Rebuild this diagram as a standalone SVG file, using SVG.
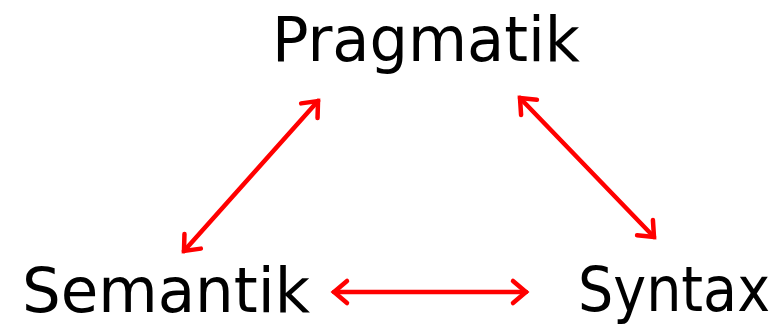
<svg xmlns="http://www.w3.org/2000/svg" width="783" height="328" viewBox="0 0 783 328">
  <style>
    .label { font-family: "DejaVu Sans Condensed", "DejaVu Sans", sans-serif; font-size: 62px; fill: #000; }
    .link { stroke: #ff0000; stroke-width: 4.5; fill: none; stroke-linecap: round; marker-start: url(#head); marker-end: url(#head); }
  </style>
  <defs>
    <!-- open chevron arrowhead, used at both ends of every link -->
    <marker id="head" viewBox="-20 -16 24 32" markerWidth="24" markerHeight="32" refX="0" refY="0" orient="auto-start-reverse" markerUnits="userSpaceOnUse">
      <path d="M-13,-11 L0,0 L-13,11" fill="none" stroke="#ff0000" stroke-width="4.5" stroke-linecap="round" stroke-linejoin="miter"/>
    </marker>
  </defs>
  <rect width="783" height="328" fill="#fff"/>
  <g id="connectors">
    <line class="link" x1="184" y1="251" x2="318" y2="101"/>
    <line class="link" x1="520" y1="98" x2="654" y2="237"/>
    <line class="link" x1="334" y1="292" x2="526" y2="292"/>
  </g>
  <g id="pragmatik">
    <text class="label" x="272" y="61" textLength="308" lengthAdjust="spacingAndGlyphs">Pragmatik</text>
  </g>
  <g id="semantik">
    <text class="label" x="22" y="312" textLength="288" lengthAdjust="spacingAndGlyphs">Semantik</text>
  </g>
  <g id="syntax">
    <text class="label" x="578" y="311" textLength="192" lengthAdjust="spacingAndGlyphs">Syntax</text>
  </g>
</svg>
